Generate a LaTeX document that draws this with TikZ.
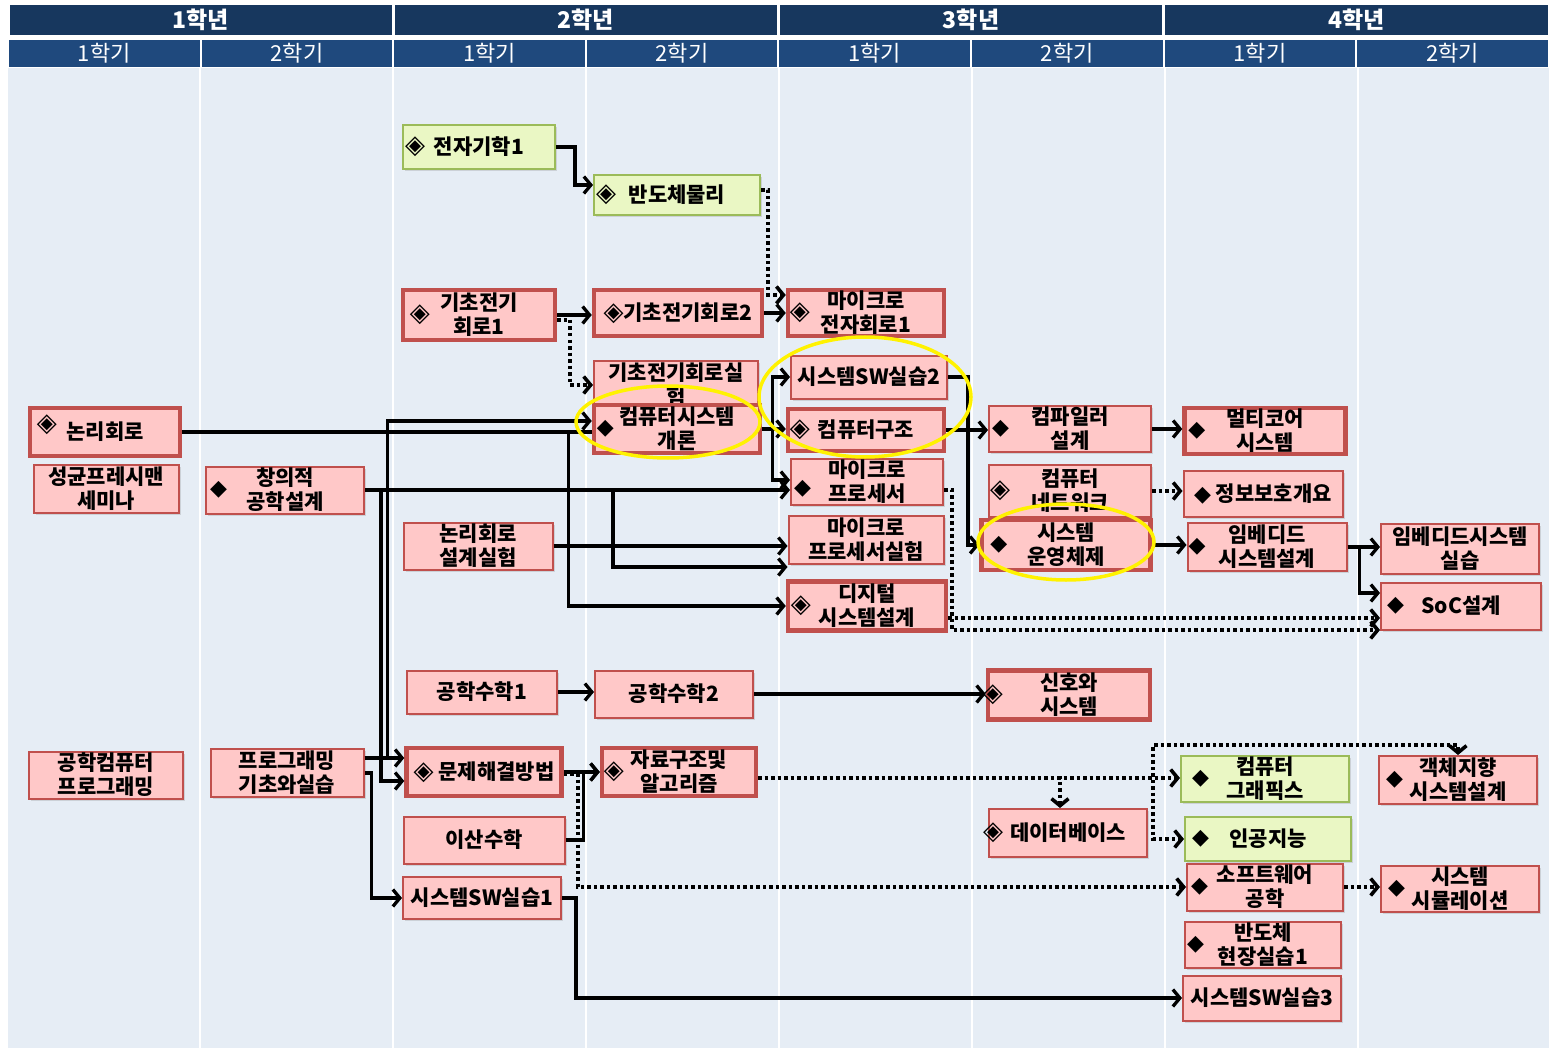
\documentclass[tikz,border=0pt]{standalone}
\usepackage{fontspec}
\setmainfont{Noto Sans CJK KR}
\newfontfamily\symfont{DejaVu Sans}
\usetikzlibrary{arrows.meta,shadows}
\definecolor{hdyear}{RGB}{23,55,94}
\definecolor{hdsem}{RGB}{31,73,125}
\definecolor{bgpane}{RGB}{230,237,245}
\definecolor{pinkfill}{RGB}{255,200,200}
\definecolor{redline}{RGB}{192,80,77}
\definecolor{limefill}{RGB}{234,247,196}
\definecolor{limeline}{RGB}{155,187,89}
\newcommand{\dsym}{{\symfont\fontsize{22}{22}\selectfont ◆}}
\newcommand{\osym}{{\symfont\fontsize{26}{26}\selectfont ◈}}
\tikzset{
    course/.style={draw=redline, fill=pinkfill, line width=2pt, align=center, inner sep=1pt,
        font=\fontsize{21}{24}\selectfont\bfseries,
        drop shadow={shadow xshift=2pt, shadow yshift=-2pt, opacity=.25}},
    req/.style={course, line width=4.5pt},
    lime/.style={course, draw=limeline, fill=limefill},
    sz/.style 2 args={minimum width=#1pt, minimum height=#2pt},
    dia/.style={label={[anchor=west, inner sep=0pt, xshift=#1pt]west:\dsym}}, dia/.default=6,
    odia/.style={label={[anchor=west, inner sep=0pt, xshift=#1pt]west:\osym}}, odia/.default=6,
    ar/.style={line width=3.3pt, -{Straight Barb[length=7pt, width=17pt]}},
    dt/.style={ar, line width=3.6pt, dash pattern=on 3.5pt off 3pt},
    ring/.style={draw=yellow, line width=3.5pt},
    yrtext/.style={text=white, font=\fontsize{23}{23}\selectfont\bfseries},
    smtext/.style={text=white, font=\fontsize{22}{22}\selectfont},
}
\begin{document}
\begin{tikzpicture}[x=1pt, y=-1pt]
    \useasboundingbox (0,0) rectangle (1549,1048);
    \fill[bgpane] (8,68) rectangle (1549,1048);
    \foreach \x in {200,393,586,779,972,1165,1358}
        \draw[white, line width=2pt] (\x,68) -- (\x,1048);
    \foreach \i [count=\n] in {0,...,3} {
        \fill[hdyear] ({8+385.25*\i+1.5},5) rectangle ({8+385.25*(\i+1)-1.5},35);
        \node[yrtext] (yr\n) at ({8+385.25*(\i+.5)},20) {{\n}학년};
    }
    \foreach \i/\s in {0/1,1/2,2/1,3/2,4/1,5/2,6/1,7/2} {
        \fill[hdsem] ({8+192.6*\i+1},40) rectangle ({8+192.6*(\i+1)-1},67);
        \node[smtext] (sm\i) at ({8+192.6*(\i+.5)},53) {{\s}학기};
    }

    \node[req, sz={150}{48}, label={[anchor=west, inner sep=0pt, xshift=9pt, yshift=7pt]west:\osym}] (logic) at (105,432) {논리회로};
    \node[course, sz={145}{48}] (fresh) at (106,489) {성균프레시맨\\세미나};
    \node[course, sz={154}{47}] (ecprog) at (106,775) {공학컴퓨터\\프로그래밍};

    \node[course, sz={158}{47}, dia=5] (creat) at (285,490) {창의적\\공학설계};
    \node[course, sz={153}{48}] (progb) at (287,773) {프로그래밍\\기초와실습};

    \node[lime, sz={152}{44}, odia=3] (emag) at (479,147) {전자기학1};
    \node[req, sz={152}{50}, odia=9] (circ1) at (479,315) {기초전기\\회로1};
    \node[course, sz={149}{47}] (logiclab) at (478,546) {논리회로\\설계실험};
    \node[course, sz={150}{43}] (math1) at (482,692) {공학수학1};
    \node[req, sz={155}{48}] (probs) at (484,772) {\osym\ 문제해결방법};
    \node[course, sz={161}{47}] (discr) at (484,840) {이산수학};
    \node[course, sz={158}{42}] (sw1) at (482,898) {시스템SW실습1};

    \node[lime, sz={166}{40}, odia=3] (semi) at (677,195) {반도체물리};
    \node[req, sz={168}{46}] (circ2) at (678,313) {\osym{}기초전기회로2};
    \node[course, sz={164}{48}] (circlab) at (676,385) {기초전기회로실\\험};
    \node[req, sz={166}{48}, dia=5] (csi) at (677,429) {컴퓨터시스템\\개론};
    \node[course, sz={158}{47}] (math2) at (674,694) {공학수학2};
    \node[req, sz={154}{48}, odia=4] (dsalgo) at (679,772) {자료구조및\\알고리즘};

    \node[req, sz={156}{46}, odia=4] (microel) at (866,313) {마이크로\\전자회로1};
    \node[course, sz={156}{43}] (sw2) at (869,377) {시스템SW실습2};
    \node[req, sz={156}{42}, odia=4] (arch) at (866,430) {컴퓨터구조};
    \node[course, sz={152}{46}, label={[anchor=west, inner sep=0pt, xshift=4pt, yshift=-7pt]west:\dsym}] (mproc) at (867,482) {마이크로\\프로세서};
    \node[course, sz={155}{48}] (mproclab) at (866,540) {마이크로\\프로세서실험};
    \node[req, sz={158}{49}, odia=5] (digsys) at (867,606) {디지털\\시스템설계};

    \node[course, sz={162}{40}, dia=4] (compiler) at (1070,429) {컴파일러\\설계};
    \node[course, sz={162}{52}, odia=2] (network) at (1070,491) {컴퓨터\\네트워크};
    \node[req, sz={169}{50}, dia=11] (os) at (1066,545) {시스템\\운영체제};
    \node[req, sz={162}{49}, odia=-3] (signal) at (1069,695) {신호와\\시스템};
    \node[course, sz={158}{48}, odia=-5] (db) at (1068,833) {데이터베이스};

    \node[req, sz={161}{44}, dia=6] (multicore) at (1265,431) {멀티코어\\시스템};
    \node[course, sz={159}{46}] (infosec) at (1263,494) {\dsym\ 정보보호개요};
    \node[course, sz={159}{48}, dia=2] (embdesign) at (1267,547) {임베디드\\시스템설계};
    \node[lime, sz={168}{46}, dia=12] (graphics) at (1265,779) {컴퓨터\\그래픽스};
    \node[lime, sz={166}{44}, dia=8] (ai) at (1268,839) {인공지능};
    \node[course, sz={156}{47}, dia=5] (swe) at (1265,887) {소프트웨어\\공학};
    \node[course, sz={156}{41}, dia=3] (semilab) at (1263,945) {반도체\\현장실습1};
    \node[course, sz={158}{45}] (sw3) at (1262,998) {시스템SW실습3};

    \node[course, sz={158}{50}] (emblab) at (1460,549) {임베디드시스템\\실습};
    \node[course, sz={160}{47}, dia=7] (soc) at (1461,606) {SoC설계};
    \node[course, sz={158}{48}, dia=8] (oop) at (1458,780) {객체지향\\시스템설계};
    \node[course, sz={158}{44}, dia=8] (sim) at (1460,889) {시스템\\시뮬레이션};

    \draw[ar] (emag.east) -- ++(19,0) |- ([yshift=10pt]semi.west);
    \draw[dt] ([yshift=5pt]semi.east) -- ++(7,0) |- ([yshift=18pt]microel.west);
    \draw[ar] (circ1.east) -- (circ1.east -| circ2.west);
    \draw[dt] ([yshift=-5pt]circ1.east) -- ++(13,0) |- (circlab.west);
    \draw[ar] (circ2.east) -- (circ2.east -| microel.west);
    \draw[line width=3.3pt] (logic.east) -- (logic.east -| csi.west);
    \draw[ar] (logic.east) -- ++(386,0) |- (digsys.west);
    \draw[ar] ([yshift=15pt]progb.east) -- ([yshift=15pt]progb.east -| probs.west);
    \draw[ar] ([yshift=15pt]progb.east) -- ++(23,0) |- ([yshift=8pt]csi.west);
    \draw[ar] (creat.east) -- ++(16,0) |- ([yshift=-9pt]probs.west);
    \draw[ar] (progb.east) -- ++(7,0) |- (sw1.west);
    \draw[ar] (creat.east) -- (creat.east -| mproc.west);
    \draw[ar] (creat.east) -- ++(248,0) |- ([yshift=-27pt]mproclab.west);
    \draw[ar] (logiclab.east) -- (logiclab.east -| mproclab.west);
    \draw[ar] (csi.east) -- ++(10,0) |- (sw2.west);
    \draw[ar] (csi.east) -- (csi.east -| arch.west);
    \draw[ar] (csi.east) -- ++(10,0) |- ([yshift=2pt]mproc.west);
    \draw[ar] (sw2.east) -- ++(20,0) |- (os.west);
    \draw[ar] (arch.east) -- (arch.east -| compiler.west);
    \draw[ar] (compiler.east) -- (compiler.east -| multicore.west);
    \draw[dt] (network.east) -- (network.east -| infosec.west);
    \draw[ar] (os.east) -- (os.east -| embdesign.west);
    \draw[ar] (embdesign.east) -- (embdesign.east -| emblab.west);
    \draw[ar] (embdesign.east) -- ++(12,0) |- ([yshift=13pt]soc.west);
    \draw[dt] ([yshift=-8pt]mproc.east) -- ++(8,0) |- ([yshift=-24pt]soc.west);
    \draw[dt] ([yshift=-12pt]digsys.east) -- ([yshift=-12pt]digsys.east -| soc.west);
    \draw[ar] (math1.east) -- (math1.east -| math2.west);
    \draw[ar] (math2.east) -- (math2.east -| signal.west);
    \draw[ar] (probs.east) -- (probs.east -| dsalgo.west);
    \draw[ar] (discr.east) -- ++(18,0) |- (dsalgo.west);
    \draw[dt] ([yshift=-2pt]probs.east) -- ++(14,0) |- (swe.west);
    \draw[ar] (sw1.east) -- ++(14,0) |- (sw3.west);
    \draw[dt] ([yshift=-6pt]dsalgo.east) -- ([yshift=-6pt]dsalgo.east -| graphics.west);
    \draw[dt] ([yshift=-6pt]dsalgo.east) -| ([xshift=-8pt]db.north);
    \draw[dt] ([yshift=-6pt]dsalgo.east) -- ++(395,0) -- ++(0,-33) -| (oop.north);
    \draw[dt] ([yshift=-6pt]dsalgo.east) -- ++(395,0) |- (ai.west);
    \draw[dt] (swe.east) -- (swe.east -| sim.west);

    \draw[ring] (668,422) ellipse [x radius=92pt, y radius=36pt];
    \draw[ring] (865,397) ellipse [x radius=106pt, y radius=60pt];
    \draw[ring] (1066,542) ellipse [x radius=88pt, y radius=38pt];
\end{tikzpicture}
\end{document}
